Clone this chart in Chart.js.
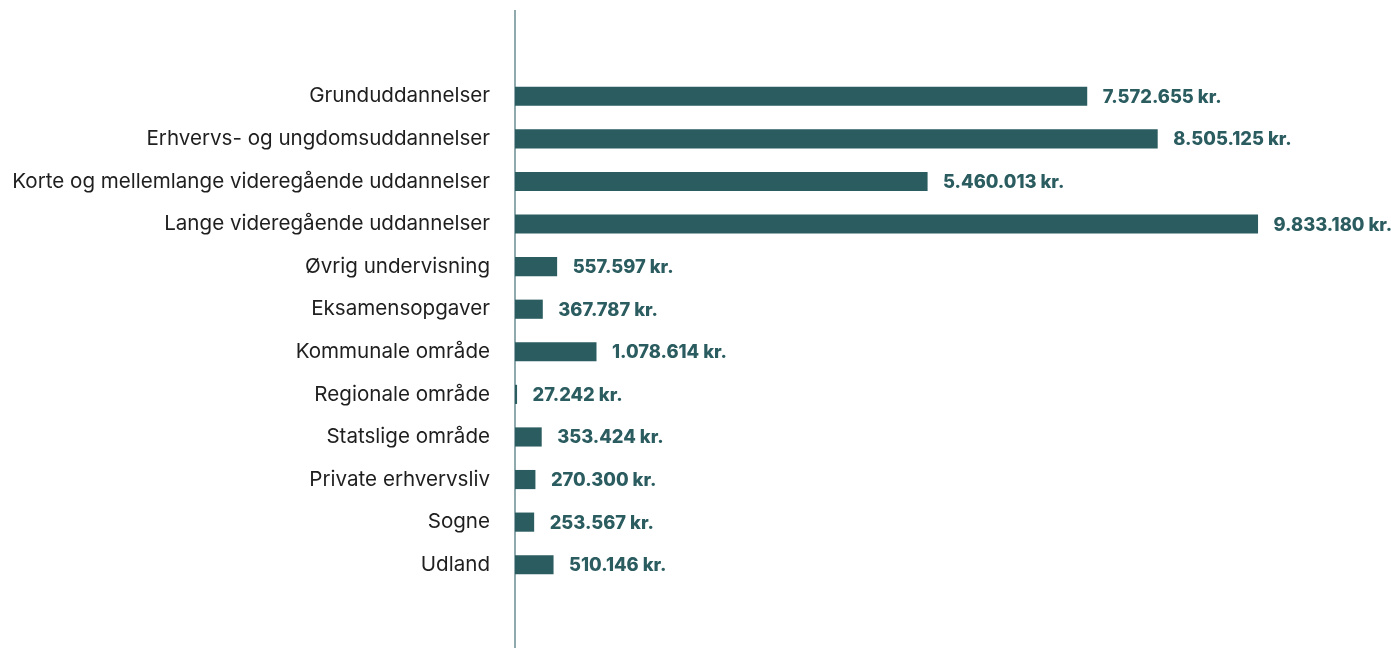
<!DOCTYPE html>
<html><head><meta charset="utf-8">
<script src="https://cdn.jsdelivr.net/npm/chart.js@4"></script>
<style>html,body{margin:0;padding:0;background:#fff;overflow:hidden}</style>
</head><body>
<canvas id="c" width="1391" height="648"></canvas>
<script>
const categories = [
  'Grunduddannelser',
  'Erhvervs- og ungdomsuddannelser',
  'Korte og mellemlange videregående uddannelser',
  'Lange videregående uddannelser',
  'Øvrig undervisning',
  'Eksamensopgaver',
  'Kommunale område',
  'Regionale område',
  'Statslige område',
  'Private erhvervsliv',
  'Sogne',
  'Udland'
];
const values = [7572655, 8505125, 5460013, 9833180, 557597, 367787, 1078614, 27242, 353424, 270300, 253567, 510146];
const xMin = 0;
const xMax = 11500000;

const BAR = '#2b5c60';
const AXIS = '#8fa9ad';
const FAMILY = 'Inter, "Noto Sans", sans-serif';

function fmt(v){ return String(v).replace(/\B(?=(\d{3})+(?!\d))/g, '.') + ' kr.'; }

const mctx = document.createElement('canvas').getContext('2d');
function fitSize(text, weight, target){
  mctx.font = weight + ' 100px ' + FAMILY;
  return 100 * target / mctx.measureText(text).width;
}
const labelSize = fitSize('Korte og mellemlange videregående uddannelser', '400', 478);
const valueSize = fitSize('7.572.655 kr.', '800', 119);

const axisLine = {
  id: 'axisLine',
  beforeDatasetsDraw(chart){
    const ctx = chart.ctx;
    const x = chart.scales.x.getPixelForValue(0);
    ctx.save();
    ctx.strokeStyle = AXIS;
    ctx.lineWidth = 2;
    ctx.beginPath();
    ctx.moveTo(x, 10);
    ctx.lineTo(x, chart.height);
    ctx.stroke();
    ctx.restore();
  }
};

const valueLabels = {
  id: 'valueLabels',
  afterDatasetsDraw(chart){
    const ctx = chart.ctx;
    const meta = chart.getDatasetMeta(0);
    ctx.save();
    ctx.font = '800 ' + valueSize + 'px ' + FAMILY;
    ctx.fillStyle = BAR;
    ctx.textAlign = 'left';
    ctx.textBaseline = 'middle';
    meta.data.forEach((bar, i) => {
      ctx.fillText(fmt(values[i]), bar.x + 15.5, bar.y + 1);
    });
    ctx.restore();
  }
};

new Chart(document.getElementById('c'), {
  type: 'bar',
  data: {
    labels: categories,
    datasets: [{
      data: values,
      backgroundColor: BAR,
      borderWidth: 0,
      barPercentage: 0.45,
      categoryPercentage: 1
    }]
  },
  options: {
    indexAxis: 'y',
    responsive: false,
    animation: false,
    devicePixelRatio: 1,
    layout: { padding: { top: 75, bottom: 62, left: 0, right: 7 } },
    plugins: { legend: { display: false }, tooltip: { enabled: false } },
    scales: {
      x: { display: false, min: xMin, max: xMax },
      y: {
        grid: { display: false, drawTicks: false },
        border: { display: false },
        ticks: {
          color: '#1f1f1f',
          padding: 25,
          font: { family: FAMILY, size: labelSize, weight: '400' }
        },
        afterFit(scale){ scale.width = 515; }
      }
    }
  },
  plugins: [axisLine, valueLabels]
});
</script>
</body></html>
